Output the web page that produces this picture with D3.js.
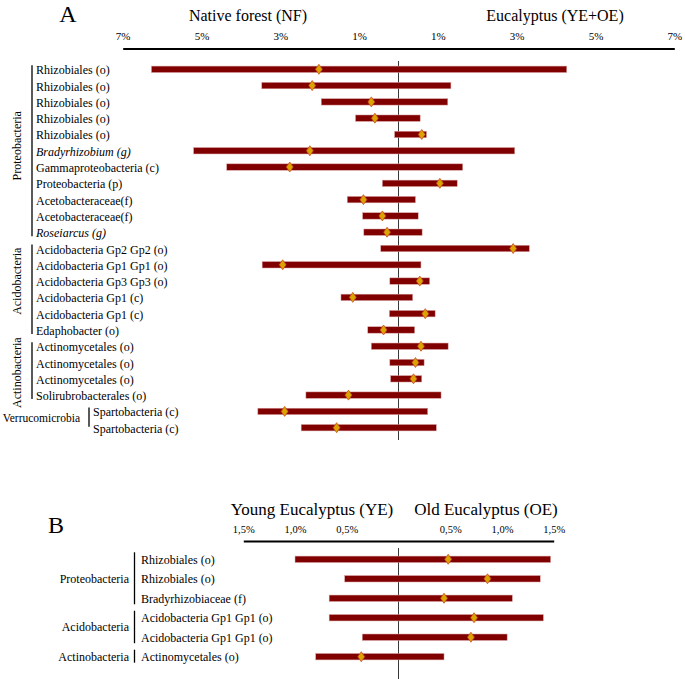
<!DOCTYPE html>
<html><head><meta charset="utf-8">
<script src="https://cdn.jsdelivr.net/npm/d3@7"></script>
<style>
html,body{margin:0;padding:0;background:#fff;}
svg{display:block;font-family:"Liberation Serif","Times New Roman",serif;}
</style></head>
<body>
<svg id="chart" width="685" height="679"></svg>
<script>
// ---------- Panel A data ----------
const labelsA = ["Rhizobiales (o)","Rhizobiales (o)","Rhizobiales (o)","Rhizobiales (o)","Rhizobiales (o)",
  "Bradyrhizobium (g)","Gammaproteobacteria (c)","Proteobacteria (p)","Acetobacteraceae(f)","Acetobacteraceae(f)",
  "Roseiarcus (g)","Acidobacteria Gp2 Gp2 (o)","Acidobacteria Gp1 Gp1 (o)","Acidobacteria Gp3 Gp3 (o)",
  "Acidobacteria Gp1 (c)","Acidobacteria Gp1 (c)","Edaphobacter (o)","Actinomycetales (o)","Actinomycetales (o)",
  "Actinomycetales (o)","Solirubrobacterales (o)","Spartobacteria (c)","Spartobacteria (c)"];
const italicA = [0,0,0,0,0,1,0,0,0,0,1,0,0,0,0,0,0,0,0,0,0,0,0];
const phylumA = ["Proteobacteria","Proteobacteria","Proteobacteria","Proteobacteria","Proteobacteria",
  "Proteobacteria","Proteobacteria","Proteobacteria","Proteobacteria","Proteobacteria","Proteobacteria",
  "Acidobacteria","Acidobacteria","Acidobacteria","Acidobacteria","Acidobacteria","Acidobacteria",
  "Actinobacteria","Actinobacteria","Actinobacteria","Actinobacteria","Verrucomicrobia","Verrucomicrobia"];
const lowA  = [-6.27,-3.47,-1.96,-1.09,-0.10,-5.20,-4.36,-0.41,-1.30,-0.91,-0.88,-0.45,-3.46,-0.22,-1.46,-0.23,-0.78,-0.69,-0.22,-0.20,-2.35,-3.57,-2.47];
const highA = [4.27,1.33,1.25,0.55,0.71,2.95,1.63,1.49,0.43,0.50,0.60,3.32,0.57,0.79,0.36,0.93,0.41,1.26,0.65,0.59,1.08,0.74,0.96];
const diffA = [-2.02,-2.19,-0.69,-0.60,0.59,-2.25,-2.76,1.05,-0.89,-0.41,-0.29,2.91,-2.94,0.54,-1.16,0.68,-0.38,0.57,0.43,0.38,-1.27,-2.89,-1.57];
const ticksA = [-7,-5,-3,-1,1,3,5,7];

// ---------- Panel B data ----------
const labelsB = ["Rhizobiales (o)","Rhizobiales (o)","Bradyrhizobiaceae (f)","Acidobacteria Gp1 Gp1 (o)","Acidobacteria Gp1 Gp1 (o)","Actinomycetales (o)"];
const phylumB = ["Proteobacteria","Proteobacteria","Proteobacteria","Acidobacteria","Acidobacteria","Actinobacteria"];
const lowB  = [-1.00,-0.52,-0.67,-0.67,-0.35,-0.80];
const highB = [1.47,1.37,1.10,1.40,1.05,0.44];
const diffB = [0.48,0.86,0.44,0.73,0.70,-0.36];
const ticksB = [-1.5,-1,-0.5,0.5,1,1.5];

const BAR = "#800000", DIA = "#DCA400", DIA_STROKE = "#C8501E";
const svg = d3.select("#chart");

function diamond(g, xs, ys, data){
  g.selectAll("path.dia").data(data).join("path").attr("class","dia")
    .attr("d", d => { const x = xs(d.v), y = ys(d.i); return `M${x},${y-5}L${x+3.4},${y}L${x},${y+5}L${x-3.4},${y}Z`; })
    .attr("fill", DIA).attr("stroke", DIA_STROKE).attr("stroke-width", 0.8);
}

function bars(g, xs, ys, lo, hi){
  g.selectAll("rect.bar").data(lo.map((l,i)=>({l, h: hi[i], i}))).join("rect").attr("class","bar")
    .attr("x", d => xs(d.l)).attr("width", d => xs(d.h) - xs(d.l))
    .attr("y", d => ys(d.i) - 3.2).attr("height", 6.4)
    .attr("fill", BAR).attr("stroke", "#d9a0a0").attr("stroke-width", 0.5);
}

function groups(phy){
  const out = [];
  phy.forEach((p,i) => {
    if (!out.length || out[out.length-1].name !== p) out.push({name:p, first:i, last:i});
    else out[out.length-1].last = i;
  });
  return out;
}

// ================= Panel A =================
const xA = d3.scaleLinear().domain([-7,7]).range([122.7,674.3]);
const yA = d3.scalePoint().domain(d3.range(labelsA.length)).range([69.3,427.7]);
const gA = svg.append("g");

gA.append("text").attr("x",68).attr("y",22).attr("text-anchor","middle").attr("font-size",24).text("A");
gA.append("text").attr("x",248).attr("y",21).attr("text-anchor","middle").attr("font-size",16).text("Native forest (NF)");
gA.append("text").attr("x",555).attr("y",21).attr("text-anchor","middle").attr("font-size",16).text("Eucalyptus (YE+OE)");

const axA = gA.append("g").attr("transform","translate(0,48.5)")
  .call(d3.axisTop(xA).tickValues(ticksA).tickSize(0).tickSizeOuter(0).tickPadding(9)
    .tickFormat(d => Math.abs(d) + "%"));
axA.select(".domain").attr("stroke","#000").attr("stroke-width",2.2);
axA.selectAll("text").attr("font-family","Liberation Serif, serif").attr("font-size",11).attr("fill","#000");

gA.append("line").attr("x1",xA(0)).attr("x2",xA(0)).attr("y1",61).attr("y2",440)
  .attr("stroke","#222").attr("stroke-width",0.9);

bars(gA, xA, yA, lowA, highA);
diamond(gA, xA, yA, diffA.map((v,i)=>({v,i})));

// row labels
const labelX = i => phylumA[i] === "Verrucomicrobia" ? 93 : 36;
gA.selectAll("text.row").data(labelsA).join("text").attr("class","row")
  .attr("x", (d,i) => labelX(i)).attr("y", (d,i) => yA(i) + 5)
  .attr("font-size",12).attr("font-style",(d,i)=> italicA[i] ? "italic" : "normal").text(d => d);

// group brackets / labels
const labelShiftA = {Proteobacteria:-5, Acidobacteria:-8, Actinobacteria:2};
groups(phylumA).forEach(gr => {
  const y0 = yA(gr.first), y1 = yA(gr.last);
  if (gr.name === "Verrucomicrobia") {
    gA.append("line").attr("x1",89).attr("x2",89).attr("y1",y0-4).attr("y2",y1-1).attr("stroke","#000").attr("stroke-width",1.3);
    gA.append("text").attr("x",80).attr("y",(y0+y1)/2+2.5).attr("text-anchor","end").attr("font-size",11.5).text(gr.name);
  } else {
    gA.append("line").attr("x1",32).attr("x2",32).attr("y1",y0-4).attr("y2",y1+4).attr("stroke","#000").attr("stroke-width",1.3);
    const cy = (y0+y1)/2 + labelShiftA[gr.name];
    gA.append("text").attr("transform",`translate(21,${cy}) rotate(-90)`).attr("text-anchor","middle")
      .attr("font-size",12).text(gr.name);
  }
});

// ================= Panel B =================
const xB = d3.scaleLinear().domain([-1.5,1.5]).range([243.3,553.7]);
const yB = d3.scalePoint().domain(d3.range(labelsB.length)).range([559.3,656.7]);
const gB = svg.append("g");

gB.append("text").attr("x",56).attr("y",533).attr("text-anchor","middle").attr("font-size",24).text("B");
gB.append("text").attr("x",312).attr("y",515).attr("text-anchor","middle").attr("font-size",17).text("Young Eucalyptus (YE)");
gB.append("text").attr("x",486).attr("y",515).attr("text-anchor","middle").attr("font-size",17).text("Old Eucalyptus (OE)");

const axB = gB.append("g").attr("transform","translate(0,541)")
  .call(d3.axisTop(xB).tickValues(ticksB).tickSize(0).tickSizeOuter(0).tickPadding(8)
    .tickFormat(d => String(Math.abs(d).toFixed(1)).replace(".", ",") + "%"));
axB.select(".domain").attr("stroke","#000").attr("stroke-width",2.2);
axB.selectAll("text").attr("font-family","Liberation Serif, serif").attr("font-size",10.5).attr("fill","#000");

gB.append("line").attr("x1",xB(0)).attr("x2",xB(0)).attr("y1",548).attr("y2",679)
  .attr("stroke","#222").attr("stroke-width",0.9);

bars(gB, xB, yB, lowB, highB);
diamond(gB, xB, yB, diffB.map((v,i)=>({v,i})));

gB.selectAll("text.row").data(labelsB).join("text").attr("class","row")
  .attr("x",141).attr("y",(d,i)=> yB(i)+4.5).attr("font-size",12).text(d=>d);

groups(phylumB).forEach(gr => {
  const y0 = yB(gr.first), y1 = yB(gr.last);
  gB.append("line").attr("x1",134.5).attr("x2",134.5).attr("y1",y0-7).attr("y2",y1+6).attr("stroke","#000").attr("stroke-width",1.3);
  gB.append("text").attr("x",129).attr("y",(y0+y1)/2+4).attr("text-anchor","end").attr("font-size",12).text(gr.name);
});
</script>
</body></html>
